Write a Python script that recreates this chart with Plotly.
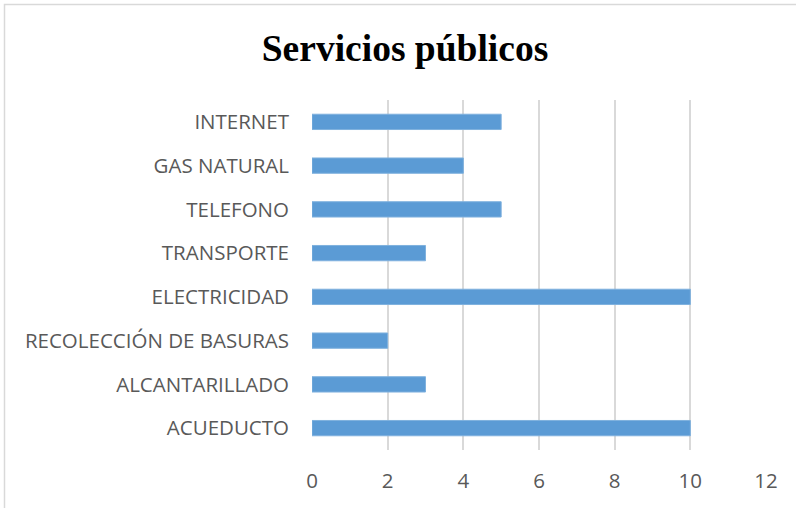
import plotly.graph_objects as go

categorias = ["ACUEDUCTO", "ALCANTARILLADO", "RECOLECCIÓN DE BASURAS", "ELECTRICIDAD",
              "TRANSPORTE", "TELEFONO", "GAS NATURAL", "INTERNET"]
valores = [10, 3, 2, 10, 3, 5, 4, 5]
ticks_x = [0, 2, 4, 6, 8, 10, 12]

W, H = 796, 508
ml, mr, mt, mb = 312, 30, 100, 58
pw, ph = W - ml - mr, H - mt - mb

fig = go.Figure(go.Bar(
    x=valores, y=categorias, orientation="h",
    marker=dict(color="#5B9BD5", line=dict(color="#7FB1DE", width=1)),
    width=0.35,
))

fig.update_layout(
    width=W, height=H,
    margin=dict(l=ml, r=mr, t=mt, b=mb),
    paper_bgcolor="white", plot_bgcolor="white",
    title=dict(text="<b>Servicios públicos</b>", x=(405 - ml) / pw, xref="paper",
               xanchor="center", y=1 - 48 / H, yanchor="middle",
               font=dict(family="Liberation Serif", size=37.5, color="black")),
    font=dict(family="Open Sans", color="#595959", size=20),
    showlegend=False,
)
fig.update_xaxes(range=[0, 12], tickvals=ticks_x, showgrid=True, gridcolor="#D9D9D9",
                 gridwidth=1.5, zeroline=False, showline=False,
                 ticklabelstandoff=16, tickfont=dict(size=20.5))
fig.update_yaxes(showgrid=False, showline=False, ticklabelstandoff=22,
                 tickfont=dict(size=20.5))

# chart border
fig.add_shape(type="rect", xref="paper", yref="paper",
              x0=(4.5 - ml) / pw, x1=(W + 5 - ml) / pw,
              y0=-(H + 5 - mt - ph) / ph, y1=(H - 4.5 - mb) / ph,
              line=dict(color="#D9D9D9", width=1.5), layer="below")

fig.write_html("out.html", config={"displayModeBar": False},
               post_script="document.body.style.margin='0';")
